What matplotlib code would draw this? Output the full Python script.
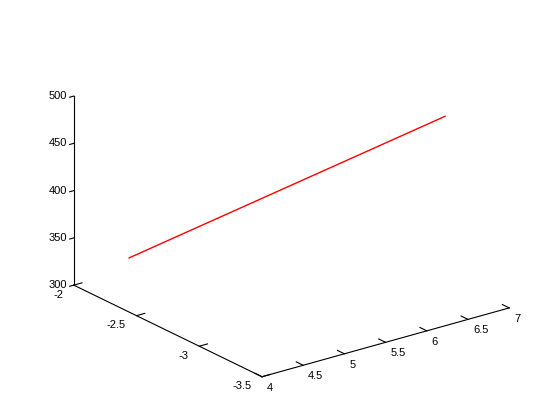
import numpy as np
import matplotlib.pyplot as plt

plt.rcParams['font.family'] = ['Liberation Sans', 'DejaVu Sans']

# the red line (end points)
x = [4.2, 6.8]
y = [-2.31, -3.12]
z = [344, 483]

xlim = (4, 7)
ylim = (-3.5, -2)
zlim = (300, 500)
xticks = [4, 4.5, 5, 5.5, 6, 6.5, 7]
xlabels = ['4', '4.5', '5', '5.5', '6', '6.5', '7']
yticks = [-3.5, -3, -2.5, -2]
ylabels = ['-3.5', '-3', '-2.5', '-2']
zticks = [300, 350, 400, 450, 500]
zlabels = ['300', '350', '400', '450', '500']

fig = plt.figure(figsize=(5.6, 4.2), dpi=100)
S = 409.75
ax = fig.add_axes([81.1 / 560, 7.6 / 420, S / 560, S / 420],
                  projection='3d', proj_type='ortho')
ax.set_xlim(xlim)
ax.set_ylim(ylim)
ax.set_zlim(zlim)
ax.set_box_aspect((311, 313, 204), zoom=1.148)
ax.view_init(elev=21.6, azim=-127.1)
ax.set_axis_off()

# axis lines, matlab style
k = dict(color='k', lw=0.8, clip_on=False)
ax.plot(xlim, [ylim[0]] * 2, [zlim[0]] * 2, **k)
ax.plot([xlim[0]] * 2, ylim, [zlim[0]] * 2, **k)
ax.plot([xlim[0]] * 2, [ylim[1]] * 2, zlim, **k)

fs = 8
for t, s in zip(xticks, xlabels):
    ax.plot([t, t], [ylim[0], ylim[0] + 0.055], [zlim[0]] * 2, **k)
    ax.text(t, ylim[0] - 0.04, zlim[0] - 9, s, ha='left', va='center', fontsize=fs)
for t, s in zip(yticks, ylabels):
    ax.plot([xlim[0], xlim[0] + 0.1], [t, t], [zlim[0]] * 2, **k)
    ax.text(xlim[0] - 0.127, t, zlim[0] - 7, s, ha='right', va='center', fontsize=fs)
for t, s in zip(zticks, zlabels):
    ax.plot([xlim[0], xlim[0] - 0.05], [ylim[1]] * 2, [t, t], **k)
    ax.text(xlim[0] - 0.08, ylim[1], t + 2, s, ha='right', va='center', fontsize=fs)

ax.plot(x, y, z, color='r', lw=1.0, clip_on=False)

fig.savefig('out.png', dpi=100)
